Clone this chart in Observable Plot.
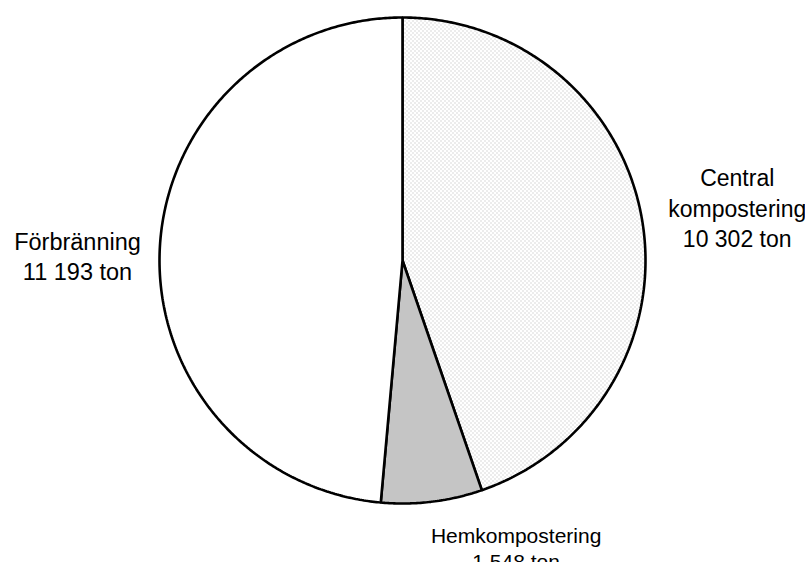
<!DOCTYPE html>
<html>
<head>
<meta charset="utf-8">
<script src="https://cdn.jsdelivr.net/npm/d3@7"></script>
<script src="https://cdn.jsdelivr.net/npm/@observablehq/plot@0.6"></script>
<style>
  html, body { margin: 0; padding: 0; background: #fff; }
  svg { display: block; }
</style>
</head>
<body>
<div id="chart"></div>
<script>
// Data
const categories = ["Central kompostering", "Hemkompostering", "Förbränning"];
const values = [10302, 1548, 11193];
const valueLabels = ["10 302 ton", "1 548 ton", "11 193 ton"];
const labelTexts = ["Central\nkompostering", "Hemkompostering", "Förbränning"];
const patterns = ["url(#patCentral)", "url(#patHem)", "#ffffff"];

// Slice geometry from values (clockwise from 12 o'clock)
const total = d3.sum(values);
let acc = 0;
const slices = values.map((v, i) => {
  const a0 = acc / total * 2 * Math.PI;
  acc += v;
  const a1 = acc / total * 2 * Math.PI;
  return {i, name: categories[i], a0, a1, mid: (a0 + a1) / 2};
});

const points = [];
for (const s of slices) {
  points.push({name: s.name, pat: patterns[s.i], x: 0, y: 0});
  const n = Math.max(2, Math.ceil((s.a1 - s.a0) / (Math.PI / 360)));
  for (let k = 0; k <= n; k++) {
    const a = s.a0 + (s.a1 - s.a0) * k / n;
    points.push({name: s.name, pat: patterns[s.i], x: Math.sin(a), y: Math.cos(a)});
  }
  points.push({name: s.name, pat: patterns[s.i], x: 0, y: 0});
}

// label placement: polar from slice midpoint, with per-label nudges
const labelR = 1.38;
const labelStyle = [
  {fontSize: 23, lineHeight: 1.33, dx: 4, dy: 2},
  {fontSize: 21, lineHeight: 1.28, dx: 73, dy: -46},
  {fontSize: 23.5, lineHeight: 1.25, dx: 10, dy: 10}
];

const textMarks = slices.map(s => Plot.text([s], {
  x: d => labelR * Math.sin(d.mid),
  y: d => labelR * Math.cos(d.mid),
  text: d => labelTexts[d.i] + "\n" + valueLabels[d.i],
  textAnchor: "middle",
  lineAnchor: "middle",
  fontSize: labelStyle[s.i].fontSize,
  lineHeight: labelStyle[s.i].lineHeight,
  dx: labelStyle[s.i].dx,
  dy: labelStyle[s.i].dy,
  fill: "#000"
}));

const chart = Plot.plot({
  width: 805,
  height: 562,
  margin: 0,
  style: {fontFamily: "Arial, 'Liberation Sans', sans-serif", background: "#fff"},
  x: {domain: [-1, 1], range: [159, 645], axis: null},
  y: {domain: [-1, 1], range: [503, 17], axis: null},
  color: {type: "identity"},
  marks: [
    Plot.line(points, {
      x: "x", y: "y", z: "name", fill: "pat",
      stroke: "#000", strokeWidth: 2.6, strokeLinejoin: "miter", curve: "linear"
    }),
    ...textMarks
  ]
});

// Fill patterns
const ns = "http://www.w3.org/2000/svg";
const defs = document.createElementNS(ns, "defs");
defs.innerHTML = `
  <pattern id="patCentral" patternUnits="userSpaceOnUse" width="4" height="4">
    <rect width="4" height="4" fill="#ffffff"/>
    <rect x="0" y="0" width="1" height="1" fill="#b4b4b4"/>
    <rect x="2" y="2" width="1" height="1" fill="#b4b4b4"/>
  </pattern>
  <pattern id="patHem" patternUnits="userSpaceOnUse" width="2" height="2">
    <rect width="2" height="2" fill="#dedede"/>
    <rect x="0" y="0" width="1" height="1" fill="#acacac"/>
    <rect x="1" y="1" width="1" height="1" fill="#acacac"/>
  </pattern>`;
chart.insertBefore(defs, chart.firstChild);

document.getElementById("chart").appendChild(chart);
</script>
</body>
</html>
